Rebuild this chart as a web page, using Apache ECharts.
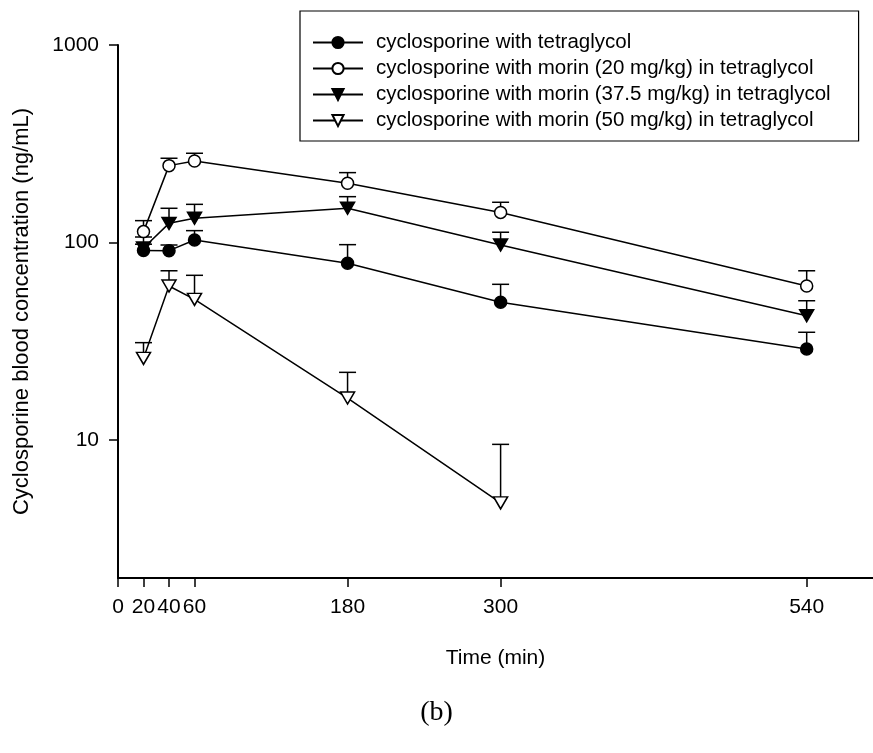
<!DOCTYPE html>
<html>
<head>
<meta charset="utf-8">
<script src="https://cdn.jsdelivr.net/npm/echarts@6/dist/echarts.min.js"></script>
<style>
  html, body { margin: 0; padding: 0; background: #fff; }
  #chart { width: 873px; height: 753px; }
</style>
</head>
<body>
<div id="chart"></div>
<script>
// Sampling times (min)
const times = [20, 40, 60, 180, 300, 540];
const xTicks = [0, 20, 40, 60, 180, 300, 540];
const yTicks = [10, 100, 1000];

// Mean blood concentrations (ng/mL) and upper ends of the error bars (mean + SD)
const ctrlMean  = [91, 90.9, 103, 78.5, 49.8, 28.9];
const ctrlUpper = [98, 97.1, 114.8, 97.5, 61.4, 35.1];

const m20Mean  = [113.5, 245, 258.6, 199.4, 142, 60.2];
const m20Upper = [129, 267, 283, 225.8, 159.8, 71.9];

const m375Mean  = [93.8, 125, 132.6, 149, 97.1, 42.6];
const m375Upper = [106.6, 149, 156, 170.6, 112.7, 50.7];

const m50Times = [20, 40, 60, 180, 300];
const m50Mean  = [25.9, 60.2, 51.5, 16.3, 4.8];
const m50Upper = [31.1, 71.9, 68.2, 22.0, 9.5];

const names = [
  'cyclosporine with tetraglycol',
  'cyclosporine with morin (20 mg/kg) in tetraglycol',
  'cyclosporine with morin (37.5 mg/kg) in tetraglycol',
  'cyclosporine with morin (50 mg/kg) in tetraglycol'
];

const FONT = 'Liberation Sans, Arial, sans-serif';
const DOWN_TRI = 'path://M0,0L10,0L5,9Z';

function pairs(xs, ys) { return xs.map((x, i) => [x, ys[i]]); }
function barData(xs, ys, ups) { return xs.map((x, i) => [x, ys[i], ups[i]]); }

function errorSeries(data) {
  return {
    type: 'custom',
    z: 1,
    silent: true,
    data: data,
    renderItem: function (params, api) {
      const p = api.coord([api.value(0), api.value(1)]);
      const u = api.coord([api.value(0), api.value(2)]);
      const half = 8.5;
      const style = { stroke: '#000', lineWidth: 1.5, fill: null };
      return {
        type: 'group',
        children: [
          { type: 'line', shape: { x1: p[0], y1: p[1], x2: u[0], y2: u[1] }, style: style },
          { type: 'line', shape: { x1: u[0] - half, y1: u[1], x2: u[0] + half, y2: u[1] }, style: style }
        ]
      };
    }
  };
}

function lineSeries(name, data, symbol, size, filled) {
  return {
    type: 'line',
    name: name,
    z: 3,
    data: data,
    symbol: symbol,
    symbolSize: size,
    showAllSymbol: true,
    lineStyle: { color: '#000', width: 1.5 },
    itemStyle: { color: filled ? '#000' : '#fff', borderColor: '#000', borderWidth: 1.5 },
    emphasis: { disabled: true }
  };
}

const chart = echarts.init(document.getElementById('chart'), null, { renderer: 'canvas' });

chart.setOption({
  animation: false,
  backgroundColor: '#fff',
  grid: { left: 118, right: 0, top: 45, bottom: 175, containLabel: false },
  legend: {
    orient: 'vertical',
    left: 300,
    top: 11,
    padding: [21, 28, 10, 12],
    borderColor: '#000',
    borderWidth: 1.2,
    itemWidth: 50,
    itemHeight: 14,
    itemGap: 5,
    textStyle: { fontFamily: FONT, fontSize: 20.5, color: '#000', padding: [0, 0, 0, 8] },
    data: names
  },
  xAxis: {
    type: 'value',
    min: 0,
    max: 592,
    name: 'Time (min)',
    nameLocation: 'middle',
    nameGap: 70,
    nameTextStyle: { fontFamily: FONT, fontSize: 21, color: '#000' },
    axisLine: { show: true, onZero: false, lineStyle: { color: '#000', width: 2 } },
    axisTick: { show: true, length: 9, lineStyle: { color: '#000', width: 1.5 }, customValues: xTicks },
    axisLabel: { fontFamily: FONT, fontSize: 21, color: '#000', margin: 19, customValues: xTicks },
    splitLine: { show: false }
  },
  yAxis: {
    type: 'log',
    logBase: 10,
    min: 2,
    max: 1000,
    name: 'Cyclosporine blood concentration (ng/mL)',
    nameLocation: 'middle',
    nameGap: 85,
    nameTextStyle: { fontFamily: FONT, fontSize: 22, color: '#000' },
    axisLine: { show: true, onZero: false, lineStyle: { color: '#000', width: 2 } },
    axisTick: { show: true, length: 9, lineStyle: { color: '#000', width: 1.5 }, customValues: yTicks },
    axisLabel: {
      fontFamily: FONT, fontSize: 21, color: '#000', margin: 19, customValues: yTicks,
      formatter: function (v) { return String(Math.round(v)); }
    },
    minorTick: { show: false },
    splitLine: { show: false }
  },
  graphic: [{
    type: 'text',
    left: 'center',
    top: 699,
    style: { text: '(b)', font: '28px "Liberation Serif", "Times New Roman", serif', fill: '#000' }
  }],
  series: [
    errorSeries(barData(times, ctrlMean, ctrlUpper)),
    errorSeries(barData(times, m20Mean, m20Upper)),
    errorSeries(barData(times, m375Mean, m375Upper)),
    errorSeries(barData(m50Times, m50Mean, m50Upper)),
    lineSeries(names[0], pairs(times, ctrlMean), 'circle', 12, true),
    lineSeries(names[1], pairs(times, m20Mean), 'circle', 12, false),
    lineSeries(names[2], pairs(times, m375Mean), DOWN_TRI, [14, 12], true),
    lineSeries(names[3], pairs(m50Times, m50Mean), DOWN_TRI, [14, 12], false)
  ]
});
</script>
</body>
</html>
